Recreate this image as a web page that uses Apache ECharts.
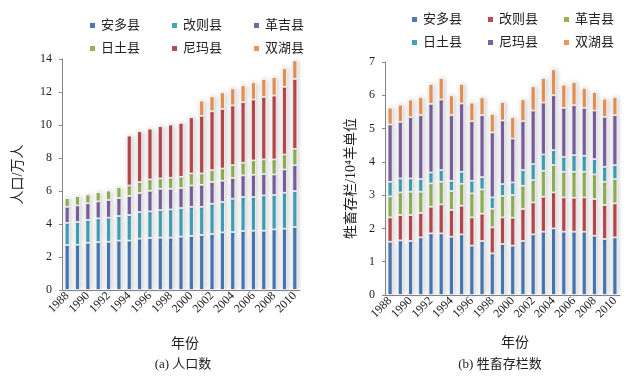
<!DOCTYPE html>
<html>
<head>
<meta charset="utf-8">
<script src="https://cdn.jsdelivr.net/npm/echarts@6/dist/echarts.min.js"></script>
<style>
  body { margin: 0; background: #fff; }
  #wrap { width: 644px; height: 381px; position: relative; }
  .c { position: absolute; top: 0; width: 322px; height: 381px; }
</style>
</head>
<body>
<div id="wrap">
  <div id="left" class="c" style="left:0"></div>
  <div id="right" class="c" style="left:322px"></div>
</div>
<script>
const years = ['1988','1989','1990','1991','1992','1993','1994','1995','1996','1997','1998','1999',
  '2000','2001','2002','2003','2004','2005','2006','2007','2008','2009','2010'];
const counties = ['安多县','改则县','革吉县','日土县','尼玛县','双湖县'];

// (a) 人口数, 万人
const popAnduo  = [2.72,2.74,2.86,2.90,2.92,2.99,2.99,3.11,3.15,3.17,3.17,3.23,3.27,3.33,3.39,3.49,3.51,3.57,3.59,3.59,3.67,3.71,3.81];
const popGaize  = [1.35,1.38,1.38,1.44,1.46,1.49,1.55,1.61,1.61,1.67,1.71,1.73,1.77,1.71,1.83,1.84,2.02,2.06,2.04,2.14,2.08,2.18,2.18];
const popGeji   = [0.97,1.00,1.01,1.03,1.07,1.09,1.15,1.15,1.25,1.29,1.25,1.21,1.29,1.33,1.32,1.29,1.25,1.31,1.35,1.29,1.25,1.41,1.57];
const popRitu   = [0.53,0.57,0.54,0.56,0.58,0.66,0.64,0.67,0.69,0.63,0.67,0.69,0.73,0.69,0.72,0.74,0.78,0.77,0.87,0.89,0.91,0.91,0.99];
const popNima   = [null,null,null,null,null,null,3.03,3.08,3.08,3.17,3.23,3.27,3.41,3.49,3.57,3.61,3.62,3.67,3.69,3.79,3.87,4.10,4.24];
const popShuanghu = [null,null,null,null,null,null,null,null,null,null,null,null,null,0.93,0.91,1.01,1.04,1.03,1.05,1.09,1.13,1.13,1.13];

// (b) 牲畜存栏数, 10^4 羊单位
const stkAnduo  = [1.60,1.64,1.62,1.73,1.85,1.85,1.75,1.82,1.48,1.62,1.25,1.53,1.48,1.62,1.82,1.90,2.00,1.90,1.90,1.90,1.78,1.68,1.73];
const stkGaize  = [0.73,0.76,0.78,0.73,0.80,0.87,0.80,0.86,0.85,0.82,0.78,0.80,0.84,0.96,0.96,1.05,1.08,1.03,1.02,1.03,1.10,1.02,1.02];
const stkGeji   = [0.63,0.68,0.70,0.64,0.70,0.68,0.57,0.66,0.72,0.73,0.56,0.64,0.68,0.70,0.67,0.78,0.82,0.77,0.78,0.77,0.74,0.70,0.73];
const stkRitu   = [0.44,0.42,0.40,0.38,0.33,0.35,0.31,0.36,0.38,0.37,0.34,0.36,0.38,0.47,0.48,0.49,0.45,0.45,0.50,0.48,0.46,0.45,0.42];
const stkNima   = [1.72,1.70,1.84,1.92,2.06,2.12,1.97,2.05,1.79,1.86,1.95,1.91,1.32,1.47,1.61,1.56,1.65,1.47,1.50,1.44,1.46,1.50,1.50];
const stkShuanghu = [0.51,0.52,0.53,0.55,0.60,0.65,0.60,0.59,0.56,0.54,0.56,0.56,0.65,0.66,0.73,0.74,0.78,0.70,0.70,0.60,0.56,0.55,0.55];

const BLUE = '#4A7AB5', RED = '#B94A4F', GREEN = '#93B35A', PURPLE = '#7B63A0', TEAL = '#46A2B8', ORANGE = '#E9955A';
const font = "'Liberation Serif', 'Noto Sans CJK SC', serif";

function bar(name, data, color) {
  return {
    name: name, type: 'bar', stack: 'all', data: data, barWidth: 5,
    itemStyle: {
      color: color, borderColor: '#fff', borderWidth: 0.8,
      shadowColor: 'rgba(0,0,0,0.22)', shadowBlur: 5, shadowOffsetX: 1
    }
  };
}

function makeOption(o) {
  const legendBase = {
    icon: 'rect', itemWidth: 7, itemHeight: 7, itemGap: o.legendGap,
    textStyle: { fontFamily: font, fontSize: 13, color: '#222' }, left: o.legendLeft
  };
  return {
    animation: false,
    textStyle: { fontFamily: font },
    legend: [
      Object.assign({ top: o.legendTop[0], data: counties.slice(0, 3) }, legendBase),
      Object.assign({ top: o.legendTop[1], data: counties.slice(3) }, legendBase)
    ],
    title: [
      { text: '年份', left: o.xNameX, top: o.xNameY, textAlign: 'center',
        textStyle: { fontFamily: font, fontSize: 14, fontWeight: 'normal', color: '#222' } },
      { text: o.caption, left: o.captionX, top: o.captionY, textAlign: 'center',
        textStyle: { fontFamily: font, fontSize: 13, fontWeight: 'normal', color: '#222' } }
    ],
    grid: o.grid,
    xAxis: {
      type: 'category', data: years,
      axisLine: { lineStyle: { color: '#888' } },
      axisTick: { lineStyle: { color: '#888' }, length: 3 },
      axisLabel: { interval: 1, rotate: 45, fontSize: 12, color: '#222', fontFamily: font, margin: 4 }
    },
    yAxis: {
      type: 'value', min: 0, max: o.yMax, interval: o.yInterval,
      name: o.yName, nameLocation: 'middle', nameGap: o.yNameGap,
      nameTextStyle: { fontFamily: font, fontSize: 14, color: '#222' },
      axisLine: { show: true, lineStyle: { color: '#888' } },
      axisTick: { show: true, length: 3, lineStyle: { color: '#888' } },
      splitLine: { show: false },
      axisLabel: { fontSize: 12, color: '#222', fontFamily: font, margin: 10 }
    },
    series: o.series
  };
}

const leftChart = echarts.init(document.getElementById('left'));
leftChart.setOption(makeOption({
  legendLeft: 83, legendTop: [14, 37], legendGap: 30,
  grid: { left: 62, right: 22, top: 59, bottom: 91 },
  yMax: 14, yInterval: 2, yName: '人口/万人', yNameGap: 37,
  xNameX: 180, xNameY: 332, caption: '(a) 人口数', captionX: 178, captionY: 353,
  series: [
    bar(counties[0], popAnduo, BLUE),
    bar(counties[1], popGaize, TEAL),
    bar(counties[2], popGeji, PURPLE),
    bar(counties[3], popRitu, GREEN),
    bar(counties[4], popNima, RED),
    bar(counties[5], popShuanghu, ORANGE)
  ]
}));

const rightChart = echarts.init(document.getElementById('right'));
rightChart.setOption(makeOption({
  legendLeft: 83, legendTop: [8, 31], legendGap: 24,
  grid: { left: 63, right: 24, top: 62, bottom: 86 },
  yMax: 7, yInterval: 1, yName: '牲畜存栏/10⁴羊单位', yNameGap: 26,
  xNameX: 188, xNameY: 331, caption: '(b) 牲畜存栏数', captionX: 173, captionY: 353,
  series: [
    bar(counties[0], stkAnduo, BLUE),
    bar(counties[1], stkGaize, RED),
    bar(counties[2], stkGeji, GREEN),
    bar(counties[3], stkRitu, TEAL),
    bar(counties[4], stkNima, PURPLE),
    bar(counties[5], stkShuanghu, ORANGE)
  ]
}));
</script>
</body>
</html>
